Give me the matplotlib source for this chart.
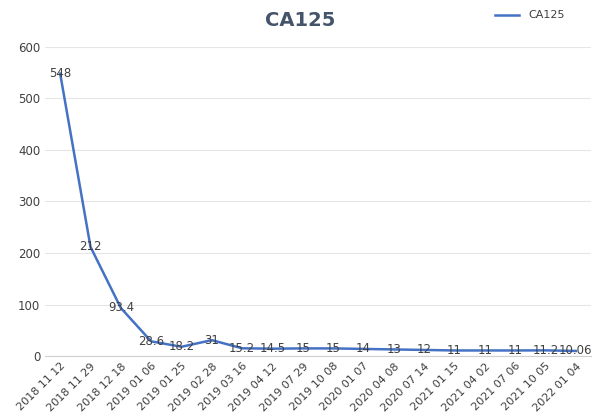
import matplotlib
matplotlib.use("Agg")
import matplotlib.pyplot as plt

dates = ["2018 11 12", "2018 11 29", "2018 12 18", "2019 01 06", "2019 01 25",
         "2019 02 28", "2019 03 16", "2019 04 12", "2019 07 29", "2019 10 08",
         "2020 01 07", "2020 04 08", "2020 07 14", "2021 01 15", "2021 04 02",
         "2021 07 06", "2021 10 05", "2022 01 04"]
values = [548, 212, 93.4, 28.6, 18.2, 31, 15.2, 14.5, 15, 15, 14, 13, 12, 11, 11, 11, 11.2, 10.06]
labels = ["548", "212", "93.4", "28.6", "18.2", "31", "15.2", "14.5", "15", "15",
          "14", "13", "12", "11", "11", "11", "11.2", "10.06"]

fig = plt.figure(figsize=(6.0, 4.18), dpi=100)
ax = fig.add_axes([0.075, 0.148, 0.91, 0.74])
x = range(len(dates))
ax.plot(x, values, color="#4472C4", lw=1.8, label="CA125")
for i, (v, t) in enumerate(zip(values, labels)):
    ax.text(i, v, t, ha="center", va="center", fontsize=8.5, color="#404040")

ax.set_ylim(0, 600)
ax.set_yticks(range(0, 601, 100))
ax.set_xlim(-0.5, len(dates) - 0.5)
ax.set_xticks(list(x))
ax.set_xticklabels(dates, rotation=45, ha="right", rotation_mode="anchor", fontsize=8, color="#404040")
ax.tick_params(axis="y", labelsize=8.5, colors="#404040", length=0)
ax.tick_params(axis="x", length=0)
ax.grid(axis="y", color="#e6e6e6", lw=0.8)
ax.set_axisbelow(True)
for s in ["top", "right", "left"]:
    ax.spines[s].set_visible(False)
ax.spines["bottom"].set_color("#d0d0d0")

fig.text(0.5, 0.952, "CA125", ha="center", va="center", fontsize=14, fontweight="bold", color="#44546A")
ax.legend(loc="upper right", bbox_to_anchor=(0.97, 1.15), frameon=False, fontsize=8,
          handlelength=2.2, labelcolor="#404040")

fig.savefig("out.png", dpi=100)
